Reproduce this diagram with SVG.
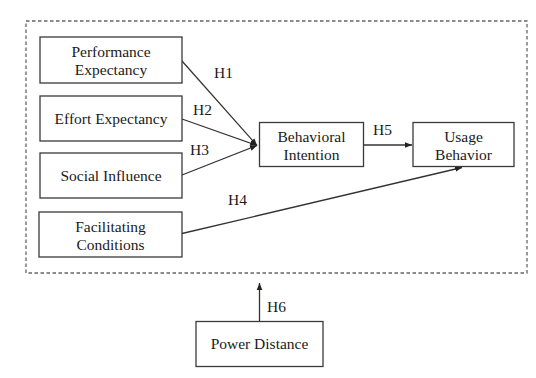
<svg xmlns="http://www.w3.org/2000/svg" width="536" height="378" viewBox="0 0 536 378">
<defs>
<style>
.box{fill:#fff;stroke:#3a3a3a;stroke-width:1.3}
.t{font-family:'Liberation Serif','Times New Roman',serif;font-size:15.5px;fill:#1a1a1a;text-anchor:middle}
.l{font-family:'Liberation Serif','Times New Roman',serif;font-size:15.5px;fill:#1a1a1a}
.c{stroke:#333;stroke-width:1.3;fill:none}
.frame{fill:none;stroke:#666;stroke-width:1.3;stroke-dasharray:3.5 2.5}
</style>
<marker id="ah" viewBox="0 0 10 10" refX="10" refY="5" markerWidth="7" markerHeight="7" markerUnits="userSpaceOnUse" orient="auto">
<path d="M0,1 L10,5 L0,9 z" fill="#222"/>
</marker>
</defs>
<rect width="536" height="378" fill="#fff"/>
<rect class="frame" x="26" y="21" width="501" height="252"/>
<g id="connectors">
<line class="c" x1="182" y1="61" x2="257" y2="145.5" marker-end="url(#ah)"/>
<line class="c" x1="182" y1="119" x2="257" y2="145.5" marker-end="url(#ah)"/>
<line class="c" x1="182" y1="175" x2="257" y2="145.5" marker-end="url(#ah)"/>
<line class="c" x1="363" y1="145" x2="412" y2="145" marker-end="url(#ah)"/>
<line class="c" x1="182" y1="233.5" x2="462" y2="167.5" marker-end="url(#ah)"/>
<line class="c" x1="259.5" y1="321.5" x2="259.5" y2="283" marker-end="url(#ah)"/>
<text class="l" x="214" y="78">H1</text>
<text class="l" x="193" y="115">H2</text>
<text class="l" x="190" y="155">H3</text>
<text class="l" x="373" y="135">H5</text>
<text class="l" x="228" y="205">H4</text>
<text class="l" x="267" y="312">H6</text>
</g>
<g id="performance-expectancy">
<rect class="box" x="40" y="37" width="142" height="46"/>
<text class="t" x="111" y="56.5">Performance</text>
<text class="t" x="111" y="75">Expectancy</text>
</g>
<g id="effort-expectancy">
<rect class="box" x="40" y="96" width="142" height="45"/>
<text class="t" x="111" y="123.5">Effort Expectancy</text>
</g>
<g id="social-influence">
<rect class="box" x="40" y="153" width="142" height="45"/>
<text class="t" x="111" y="180.5">Social Influence</text>
</g>
<g id="facilitating-conditions">
<rect class="box" x="39" y="212" width="143" height="45"/>
<text class="t" x="110.5" y="231.5">Facilitating</text>
<text class="t" x="110.5" y="250">Conditions</text>
</g>
<g id="behavioral-intention">
<rect class="box" x="259.5" y="122.5" width="104" height="44"/>
<text class="t" x="311.5" y="141.5">Behavioral</text>
<text class="t" x="311.5" y="160">Intention</text>
</g>
<g id="usage-behavior">
<rect class="box" x="413" y="122.5" width="101" height="44"/>
<text class="t" x="463.5" y="141.5">Usage</text>
<text class="t" x="463.5" y="160">Behavior</text>
</g>
<g id="power-distance">
<rect class="box" x="196" y="321.5" width="127" height="45"/>
<text class="t" x="259.5" y="349">Power Distance</text>
</g>
</svg>
